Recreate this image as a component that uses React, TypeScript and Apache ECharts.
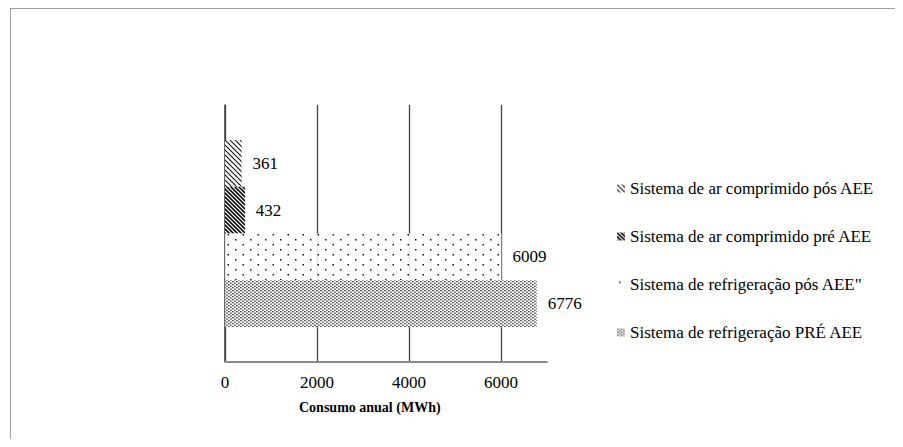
import { useEffect, useRef } from 'react';
import * as echarts from 'echarts';

// Annual consumption per system, before and after the energy efficiency action (AEE)
const categories = ['Consumo anual'];
const seriesNames = [
  'Sistema de ar comprimido pós AEE',
  'Sistema de ar comprimido pré AEE',
  'Sistema de refrigeração pós AEE"',
  'Sistema de refrigeração PRÉ AEE',
];
const seriesValues = [361, 432, 6009, 6776];
const patternKinds = ['hatchLight', 'hatchDark', 'dotsSparse', 'dotsDense'];
const axisMax = 7000;
const axisInterval = 2000;
const axisTitle = 'Consumo anual (MWh)';

const FONT = 'Liberation Serif, serif';

function makePattern(kind: string) {
  const sizes: Record<string, [number, number]> = {
    hatchLight: [5, 5],
    hatchDark: [4, 4],
    dotsSparse: [15, 10],
    dotsDense: [4, 3],
  };
  const [w, h] = sizes[kind];
  const scale = 4;
  const c = document.createElement('canvas');
  c.width = w * scale;
  c.height = h * scale;
  const ctx = c.getContext('2d')!;
  ctx.scale(scale, scale);
  ctx.fillStyle = kind === 'dotsSparse' ? 'rgba(255,255,255,0.85)' : '#ffffff';
  ctx.fillRect(0, 0, w, h);
  if (kind === 'hatchLight' || kind === 'hatchDark') {
    ctx.strokeStyle = '#000';
    ctx.lineWidth = kind === 'hatchLight' ? 1 : 1.6;
    for (let k = -1; k <= 1; k++) {
      ctx.beginPath();
      ctx.moveTo(k * w - 1, -1);
      ctx.lineTo(k * w + w + 1, h + 1);
      ctx.stroke();
    }
  } else if (kind === 'dotsSparse') {
    ctx.fillStyle = '#111';
    ctx.fillRect(2, 1, 1.5, 1.5);
    ctx.fillRect(9.5, 6, 1.5, 1.5);
  } else {
    ctx.fillStyle = '#262626';
    ctx.fillRect(0.2, 0, 1.4, 1.3);
    ctx.fillRect(2.2, 1.5, 1.4, 1.3);
  }
  return {
    image: c.toDataURL(),
    repeat: 'repeat' as const,
    imageWidth: w,
    imageHeight: h,
  };
}

export default function App() {
  const ref = useRef<HTMLDivElement>(null);

  useEffect(() => {
    if (!ref.current) return;
    const chart = echarts.init(ref.current, null, { renderer: 'svg' });

    const series = seriesNames.map((name, i) => ({
      name,
      type: 'bar' as const,
      data: [seriesValues[i]],
      barWidth: 46.7,
      barGap: '0%',
      itemStyle: { color: makePattern(patternKinds[i]) as any },
      label: {
        show: true,
        position: 'right' as const,
        distance: 11,
        color: '#000',
        fontFamily: FONT,
        fontSize: 17,
      },
    }));

    chart.setOption({
      animation: false,
      textStyle: { fontFamily: FONT },
      grid: { left: 217, top: 97, right: 356, bottom: 77, containLabel: false },
      xAxis: {
        type: 'value',
        min: 0,
        max: axisMax,
        interval: axisInterval,
        axisLine: { show: true, lineStyle: { color: '#8c8c8c', width: 2 } },
        axisTick: { show: false },
        axisLabel: {
          showMaxLabel: false,
          margin: 12,
          color: '#000',
          fontFamily: FONT,
          fontSize: 17,
          formatter: (v: number) => String(v),
        },
        splitLine: {
          show: true,
          showMaxLine: false,
          lineStyle: { color: '#404040', width: 1.3 },
        },
      },
      yAxis: {
        type: 'category',
        data: categories,
        axisLine: { show: true, lineStyle: { color: '#404040', width: 1.5 } },
        axisTick: { show: false },
        axisLabel: { show: false },
        splitLine: { show: false },
      },
      legend: {
        orient: 'vertical',
        left: 604,
        top: 167,
        itemWidth: 8,
        itemHeight: 8,
        itemGap: 31,
        icon: 'rect',
        data: seriesNames,
        textStyle: {
          color: '#000',
          fontFamily: FONT,
          fontSize: 17,
          lineHeight: 17,
        },
      },
      graphic: [
        {
          type: 'text',
          left: 291,
          top: 392,
          style: {
            text: axisTitle,
            fontFamily: FONT,
            fontSize: 14,
            fontWeight: 'bold',
            fill: '#000',
          },
        },
      ],
      series,
    });

    return () => chart.dispose();
  }, []);

  return (
    <div style={{ position: 'relative', width: 895, height: 431, background: '#fff' }}>
      {/* frame around the chart area: top and left edges only */}
      <div
        style={{
          position: 'absolute',
          left: 2,
          top: 0,
          right: 1,
          bottom: 0,
          borderTop: '1.5px solid #a0a0a0',
          borderLeft: '1.5px solid #a0a0a0',
          pointerEvents: 'none',
        }}
      />
      <div ref={ref} style={{ position: 'absolute', left: 0, top: 0, width: 895, height: 431 }} />
    </div>
  );
}
